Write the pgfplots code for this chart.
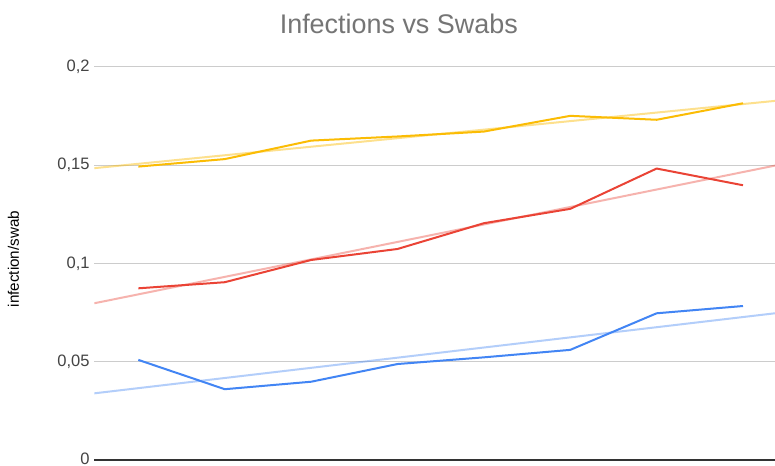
\documentclass[border=0pt]{standalone}
\usepackage{pgfplots}
\pgfplotsset{compat=1.18}
\usepackage{fontspec}
\setmainfont{Liberation Sans}
\definecolor{gblue}{HTML}{4285F4}
\definecolor{gred}{HTML}{EA4335}
\definecolor{gyellow}{HTML}{FBBC04}
\definecolor{titlegray}{HTML}{757575}
\definecolor{ticktext}{HTML}{444444}
\definecolor{gridgray}{HTML}{CCCCCC}
\begin{document}
\begin{tikzpicture}
\useasboundingbox (0pt,0pt) rectangle (581.25pt,348.75pt);
\fill[white] (0pt,0pt) rectangle (581.25pt,348.75pt);
\node[text=titlegray, font=\fontsize{20.2}{24}\selectfont] at (299.1pt,331pt) {Infections vs Swabs};
\node[text=black, rotate=90, font=\fontsize{11.4}{13}\selectfont] at (10.1pt,154.5pt) {infection/swab};
\begin{axis}[
  at={(70.73pt,3.75pt)}, anchor=south west,
  scale only axis, width=510.5pt, height=295pt,
  xmin=-0.51, xmax=7.37, ymin=0, ymax=0.2,
  axis line style={draw=none},
  xtick=\empty,
  ytick={0.05,0.1,0.15,0.2},
  extra y ticks={0},
  extra y tick style={grid style={color=black!80, line width=1pt},
    yticklabel style={inner ysep=0pt, yshift=1pt}},
  ymajorgrids,
  grid style={color=gridgray, line width=0.75pt},
  major tick length=0pt,
  yticklabel style={text=ticktext, font=\fontsize{12.4}{14}\selectfont},
  /pgf/number format/assume math mode=true,
  /pgf/number format/use comma,
  /pgf/number format/fixed,
  /pgf/number format/precision=2,
  clip=true,
]
% trendlines
\addplot[gyellow, opacity=0.45, line width=1.5pt] coordinates {(-0.51,0.1484) (7.37,0.1826)};
\addplot[gred, opacity=0.4, line width=1.5pt] coordinates {(-0.51,0.0797) (7.37,0.1497)};
\addplot[gblue, opacity=0.4, line width=1.5pt] coordinates {(-0.51,0.0339) (7.37,0.0746)};
% series
\addplot[gyellow, line width=1.5pt, line join=round] coordinates {
(0,0.1492) (1,0.1530) (2,0.1624) (3,0.1645) (4,0.1670) (5,0.1750) (6,0.1730) (7,0.1814)};
\addplot[gred, line width=1.5pt, line join=round] coordinates {
(0,0.0873) (1,0.0904) (2,0.1017) (3,0.1073) (4,0.1204) (5,0.1277) (6,0.1482) (7,0.1397)};
\addplot[gblue, line width=1.5pt, line join=round] coordinates {
(0,0.0509) (1,0.0360) (2,0.0398) (3,0.0488) (4,0.0522) (5,0.0560) (6,0.0746) (7,0.0783)};
\end{axis}
\end{tikzpicture}
\end{document}
